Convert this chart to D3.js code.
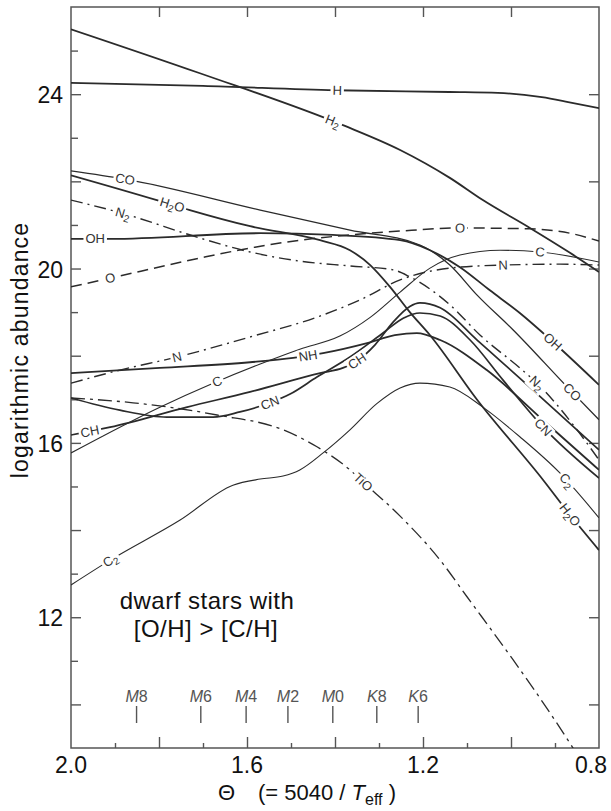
<!DOCTYPE html>
<html><head><meta charset="utf-8">
<script src="https://cdn.jsdelivr.net/npm/d3@7"></script>
<style>
html,body{margin:0;padding:0;background:#fff;}
svg{display:block;}
text{font-family:"Liberation Sans",Arial,Helvetica,sans-serif;}
</style></head><body>
<svg id="c" width="611" height="811"></svg>
<script>
// ---------------- data (theta = 5040/Teff, log abundance) ----------------
const theta_H = [2.0,1.7,1.4,1.14,1.03,0.93,0.87,0.8];
const val_H   = [24.26,24.19,24.09,24.05,24.03,23.93,23.82,23.68];

const theta_H2 = [2.0,1.707,1.382,1.252,1.139,1.064,0.957,0.866,0.8];
const val_H2   = [25.49,24.48,23.29,22.72,22.08,21.57,20.93,20.36,19.92];

const theta_OH = [2.0,1.91,1.57,1.405,1.252,1.184,1.116,1.048,0.98,0.905,0.8];
const val_OH   = [20.68,20.68,20.81,20.77,20.65,20.42,20.03,19.5,18.98,18.32,17.33];

const theta_CO = [2.0,1.877,1.57,1.366,1.207,1.139,1.077,0.995,0.873,0.8];
const val_CO   = [22.24,22.05,21.34,20.88,20.54,20.08,19.39,18.59,17.29,16.53];

const theta_H2O = [2.0,1.805,1.73,1.593,1.434,1.366,1.32,1.275,1.23,1.184,1.077,0.927,0.866,0.8];
const val_H2O   = [22.14,21.57,21.34,20.97,20.65,20.42,20.08,19.58,19.0,18.47,16.99,15.15,14.35,13.54];

const theta_N2 = [2.0,1.884,1.707,1.593,1.48,1.366,1.268,1.23,1.139,1.07,0.98,0.941,0.85,0.8];
const val_N2   = [21.57,21.27,20.7,20.38,20.17,20.06,19.97,19.81,19.17,18.47,17.72,17.37,16.3,15.61];

const theta_O = [2.0,1.911,1.707,1.582,1.48,1.366,1.252,1.116,0.957,0.866,0.8];
const val_O   = [19.58,19.78,20.24,20.49,20.65,20.77,20.86,20.93,20.91,20.81,20.63];

const theta_C = [2.0,1.798,1.677,1.57,1.48,1.389,1.32,1.252,1.184,1.116,1.025,0.934,0.8];
const val_C   = [15.77,16.82,17.37,17.81,18.15,18.45,18.88,19.46,20.01,20.31,20.42,20.38,20.15];

const theta_N = [2.0,1.889,1.759,1.593,1.434,1.343,1.252,1.139,1.018,0.889,0.8];
const val_N   = [17.37,17.67,17.97,18.43,18.91,19.28,19.74,20.01,20.08,20.10,20.08];

const theta_NH = [2.0,1.798,1.593,1.495,1.427,1.327,1.264,1.214,1.161,1.055,0.927,0.8];
const val_NH   = [17.6,17.72,17.85,17.95,18.06,18.29,18.47,18.52,18.36,17.67,16.52,15.38];

const theta_CH = [2.0,1.911,1.736,1.593,1.434,1.382,1.35,1.309,1.268,1.23,1.207,1.161,1.077,0.95,0.8];
const val_CH   = [16.18,16.36,16.82,17.17,17.6,17.72,17.88,18.25,18.77,19.13,19.21,19.1,18.36,17.21,15.84];

const theta_CN = [2.0,1.889,1.782,1.677,1.616,1.548,1.502,1.441,1.366,1.291,1.245,1.207,1.161,1.093,1.018,0.927,0.8];
const val_CN   = [17.03,16.75,16.59,16.59,16.71,16.92,17.12,17.51,17.97,18.52,18.86,18.98,18.91,18.36,17.44,16.36,15.19];

const theta_TiO = [2.0,1.859,1.668,1.518,1.441,1.366,1.336,1.252,1.161,1.1,0.995,0.905,0.82];
const val_TiO   = [17.03,16.92,16.64,16.30,15.91,15.38,15.10,14.32,13.31,12.47,11.02,9.71,8.38];

const theta_C2 = [2.0,1.911,1.752,1.632,1.57,1.518,1.48,1.427,1.366,1.305,1.252,1.207,1.139,1.064,0.98,0.889,0.8];
const val_C2   = [12.74,13.31,14.23,15.03,15.17,15.24,15.38,15.77,16.3,16.9,17.26,17.37,17.28,16.82,16.14,15.31,14.28];

// curve labels: text, series, theta position
const labelText   = ['H','H2','CO','H2O','N2','OH','O','O','C','N','N','NH','C','CH','CN','CH','TiO','C2','OH','CO','N2','CN','C2','H2O'];
const labelSeries = ['H','H2','CO','H2O','N2','OH','O','O','C','N','N','NH','C','CH','CN','CH','TiO','C2','OH','CO','N2','CN','C2','H2O'];
const labelTheta  = [1.395,1.405,1.877,1.770,1.882,1.945,1.911,1.116,0.934,1.018,1.759,1.461,1.668,1.957,1.548,1.35,1.336,1.911,0.905,0.861,0.941,0.927,0.873,0.866];

// spectral types
const spTypes = ['M8','M6','M4','M2','M0','K8','K6'];
const spTheta = [1.851,1.705,1.602,1.507,1.405,1.305,1.211];

// axis ticks
const xTickLabels = [2.0,1.6,1.2,0.8];
const yTickLabels = [12,16,20,24];

// ---------------- drawing ----------------
const series = [
  {name:'H',   t:theta_H,   v:val_H,   w:1.8, dash:null},
  {name:'H2',  t:theta_H2,  v:val_H2,  w:1.8, dash:null},
  {name:'OH',  t:theta_OH,  v:val_OH,  w:1.8, dash:null},
  {name:'CO',  t:theta_CO,  v:val_CO,  w:1.3, dash:null},
  {name:'H2O', t:theta_H2O, v:val_H2O, w:1.8, dash:null},
  {name:'N2',  t:theta_N2,  v:val_N2,  w:1.4, dash:'12,5,2,5'},
  {name:'O',   t:theta_O,   v:val_O,   w:1.5, dash:'11,6'},
  {name:'C',   t:theta_C,   v:val_C,   w:1.1, dash:null},
  {name:'N',   t:theta_N,   v:val_N,   w:1.4, dash:'12,5,2,5'},
  {name:'NH',  t:theta_NH,  v:val_NH,  w:1.8, dash:null},
  {name:'CH',  t:theta_CH,  v:val_CH,  w:1.7, dash:null},
  {name:'CN',  t:theta_CN,  v:val_CN,  w:1.7, dash:null},
  {name:'TiO', t:theta_TiO, v:val_TiO, w:1.3, dash:'14,5,3,5'},
  {name:'C2',  t:theta_C2,  v:val_C2,  w:1.1, dash:null}
];

const svg = d3.select('#c');
const x = d3.scaleLinear().domain([2.0,0.8]).range([71,599]);
const y = d3.scaleLinear().domain([9,26]).range([748,7]);
const ink = '#2b2b2b';

svg.append('defs').append('clipPath').attr('id','plot')
  .append('rect').attr('x',x(2.0)).attr('y',y(26)).attr('width',x(0.8)-x(2.0)).attr('height',y(9)-y(26));

// ticks via d3 axes
const tx = k => k/10;
const minorX = d3.range(9,20).filter(k=>k%2===1).map(tx);
const majorX = d3.range(10,20).filter(k=>k%2===0).map(tx);
function styleAxis(g){ g.select('.domain').remove(); g.selectAll('line').attr('stroke','#555').attr('stroke-width',1.4); g.selectAll('text').remove(); }
svg.append('g').attr('transform',`translate(0,${y(9)})`).call(d3.axisBottom(x).tickValues(minorX).tickSize(-5).tickFormat('')).call(styleAxis);
svg.append('g').attr('transform',`translate(0,${y(9)})`).call(d3.axisBottom(x).tickValues(majorX).tickSize(-11).tickFormat('')).call(styleAxis);
svg.append('g').attr('transform',`translate(0,${y(26)})`).call(d3.axisTop(x).tickValues(majorX).tickSize(-10).tickFormat('')).call(styleAxis);
svg.append('g').attr('transform',`translate(${x(2.0)},0)`).call(d3.axisLeft(y).tickValues(d3.range(10,26).filter(v=>v%2===1)).tickSize(-7).tickFormat('')).call(styleAxis);
svg.append('g').attr('transform',`translate(${x(2.0)},0)`).call(d3.axisLeft(y).tickValues(d3.range(10,26).filter(v=>v%2===0)).tickSize(-10).tickFormat('')).call(styleAxis);
svg.append('g').attr('transform',`translate(${x(0.8)},0)`).call(d3.axisRight(y).tickValues(d3.range(10,26,2)).tickSize(-10).tickFormat('')).call(styleAxis);

// frame
svg.append('rect').attr('x',x(2.0)).attr('y',y(26)).attr('width',x(0.8)-x(2.0)).attr('height',y(9)-y(26))
  .attr('fill','none').attr('stroke','#555').attr('stroke-width',1.5);

// curves
const line = d3.line().x(d=>x(d[0])).y(d=>y(d[1])).curve(d3.curveMonotoneX);
const gLines = svg.append('g').attr('clip-path','url(#plot)');
const paths = {};
series.forEach(s=>{
  const pts = s.t.map((t,i)=>[t,s.v[i]]);
  const p = gLines.append('path').attr('d',line(pts)).attr('fill','none')
    .attr('stroke',ink).attr('stroke-width',s.w).attr('stroke-linejoin','round')
    .attr('stroke-dasharray',s.dash);
  paths[s.name]=p.node();
});

// curve labels
function pointAtX(node, px){
  const L=node.getTotalLength(); let lo=0, hi=L;
  for(let i=0;i<40;i++){ const m=(lo+hi)/2; if(node.getPointAtLength(m).x<px) lo=m; else hi=m; }
  const l=(lo+hi)/2; const p=node.getPointAtLength(l);
  const a=node.getPointAtLength(Math.max(0,l-4)), b=node.getPointAtLength(Math.min(L,l+4));
  return {x:p.x,y:p.y,ang:Math.atan2(b.y-a.y,b.x-a.x)*180/Math.PI};
}
const gLab = svg.append('g');
labelText.forEach((txt,i)=>{
  const node = paths[labelSeries[i]];
  const p = pointAtX(node, x(labelTheta[i]));
  const g = gLab.append('g').attr('transform',`translate(${p.x},${p.y}) rotate(${p.ang})`);
  const t = g.append('text').attr('text-anchor','middle').attr('y',4.5)
    .attr('font-size',13).attr('fill','#333');
  const parts = txt.match(/[A-Za-z]+|\d/g);
  parts.forEach(pt=>{
    if(/\d/.test(pt)) t.append('tspan').attr('font-size',10).attr('dy',3).text(pt);
    else { const ts=t.append('tspan').text(pt); if(t.selectAll('tspan').size()>1) ts.attr('dy',-3); }
  });
  const bb = t.node().getBBox();
  g.insert('rect','text').attr('x',bb.x-2).attr('y',bb.y+1).attr('width',bb.width+4).attr('height',bb.height-2).attr('fill','#fff');
});

// spectral types
const gSp = svg.append('g');
spTypes.forEach((s,i)=>{
  const px = x(spTheta[i]);
  const t = gSp.append('text').attr('x',px).attr('y',702).attr('text-anchor','middle')
    .attr('font-size',16).attr('fill','#555');
  t.append('tspan').attr('font-style','italic').text(s[0]);
  t.append('tspan').text(s.slice(1));
  gSp.append('line').attr('x1',px).attr('x2',px).attr('y1',706).attr('y2',723)
    .attr('stroke','#555').attr('stroke-width',1.4);
});

// tick labels
svg.append('g').selectAll('text').data(yTickLabels).join('text')
  .attr('x',63).attr('y',d=>y(d)+9).attr('text-anchor','end').attr('font-size',23).attr('fill','#111')
  .text(d=>d);
svg.append('g').selectAll('text').data(xTickLabels).join('text')
  .attr('x',d=> d===0.8 ? x(d)-8 : x(d)).attr('y',773).attr('text-anchor','middle').attr('font-size',23).attr('fill','#111')
  .text(d=>d.toFixed(1));

// axis titles
const xt = svg.append('text').attr('x',218).attr('y',800).attr('font-size',22).attr('fill','#111');
xt.append('tspan').text('Θ');
xt.append('tspan').attr('x',258).text('(= 5040 / ');
xt.append('tspan').attr('font-style','italic').text('T');
xt.append('tspan').attr('font-size',16).attr('dy',5).text('eff');
xt.append('tspan').attr('dy',-5).text(' )');

svg.append('text').attr('transform','translate(28,350) rotate(-90)').attr('text-anchor','middle')
  .attr('font-size',23).attr('letter-spacing',1.2).attr('fill','#111').text('logarithmic abundance');

// annotation
svg.append('text').attr('x',207).attr('y',609).attr('text-anchor','middle').attr('font-size',24)
  .attr('letter-spacing',0.5).attr('fill','#111').text('dwarf stars with');
svg.append('text').attr('x',206).attr('y',637).attr('text-anchor','middle').attr('font-size',24)
  .attr('letter-spacing',0.5).attr('fill','#111').text('[O/H] > [C/H]');
</script></body></html>
